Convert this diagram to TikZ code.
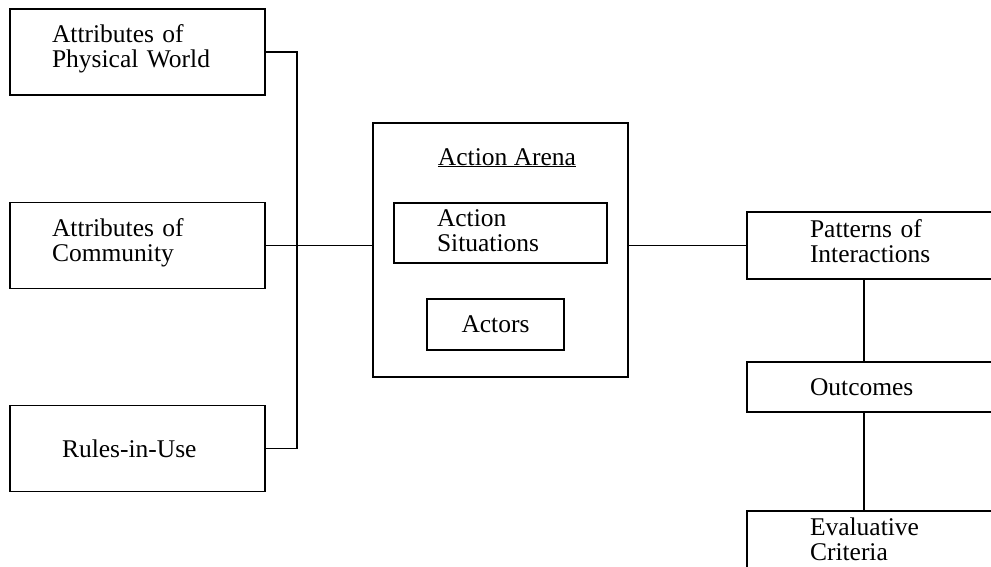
\documentclass[tikz,border=0pt]{standalone}
\usepackage{fontspec}
\setmainfont{Liberation Serif}
\tikzset{box/.style={draw,line width=1.2pt,font=\fontsize{25.5}{25}\selectfont},
         leftbox/.style={box,minimum width=255pt,minimum height=86pt,text width=171pt,inner xsep=42pt,align=left,text depth=36pt},
         rightbox/.style={box,minimum width=255pt,text width=129pt,inner xsep=63pt,align=left},
         link/.style={line width=1.2pt}}

\begin{document}
\begin{tikzpicture}[x=1pt,y=-1pt]
                  \useasboundingbox (0,0) rectangle (991,566);
                  \clip (0,0) rectangle (991,566);
                  \node[leftbox] (phys) at (137.5,52) {Attributes of\\Physical World};
                  \node[leftbox] (comm) at (137.5,245.5) {Attributes of\\Community};
                  \node[leftbox,text depth=,text width=151pt,inner xsep=52pt] (rules) at (137.5,448.5) {Rules-in-Use};
                  \coordinate (bus) at (297,52);
                  \node[box,minimum width=255pt,minimum height=254pt] (arena) at (500.5,250) {};
                  \node[font=\fontsize{25.5}{25}\selectfont,anchor=base] (arenatitle) at (507,165) {\underline{Action Arena}};
                  \node[box,minimum width=213pt,minimum height=60pt,text width=127pt,inner xsep=43pt,align=left,text depth=29pt] (situ) at (500.5,233) {Action\\Situations};
                  \node[box,minimum width=137pt,minimum height=51pt,xshift=-3pt] (actors) at (498.5,324.5) {Actors};
                  \node[rightbox,minimum height=67pt,text depth=34pt] (pat) at (874.5,245.5) {Patterns of\\Interactions};
                  \node[rightbox,minimum height=50pt] (out) at (874.5,387) {Outcomes};
                  \node[rightbox,minimum height=67pt,text depth=35pt] (eval) at (874.5,544.5) {Evaluative\\Criteria};
                  \coordinate (spine) at (864,0);
                  \draw[link] (phys.east) -- (phys.east -| bus) -- (rules.east -| bus) -- (rules.east);
                  \draw[link] (comm.east) -- (comm.east -| arena.west);
                  \draw[link] (pat.west -| arena.east) -- (pat.west);
                  \draw[link] (pat.south -| spine) -- (out.north -| spine);
                  \draw[link] (out.south -| spine) -- (eval.north -| spine);
              \end{tikzpicture}
\end{document}
